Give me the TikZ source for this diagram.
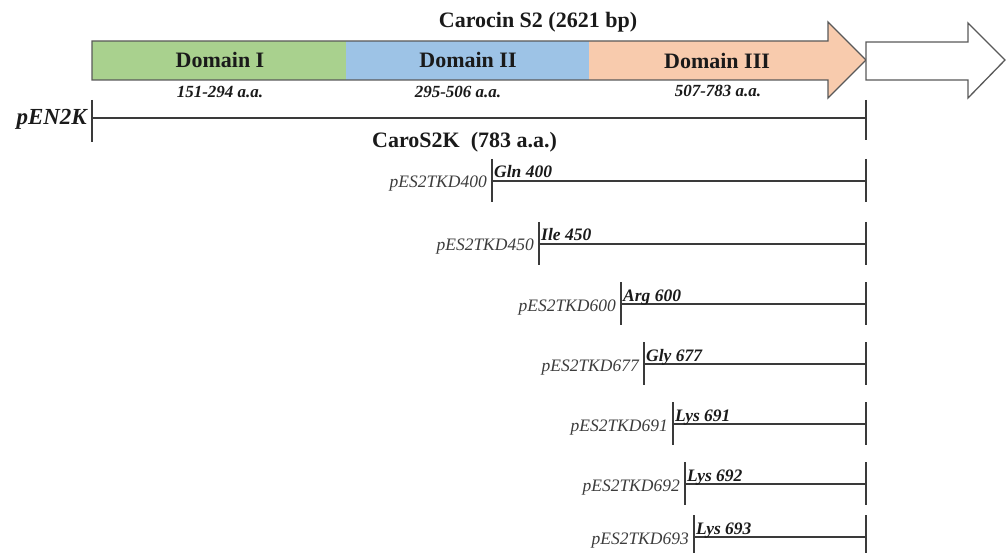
\documentclass[tikz,border=0pt]{standalone}
\usepackage{fontspec}
\setmainfont{Liberation Serif}
\definecolor{dgreen}{HTML}{A9D18E}
\definecolor{dblue}{HTML}{9DC3E6}
\definecolor{dorange}{HTML}{F8CBAD}
\definecolor{edgec}{HTML}{595959}
\definecolor{linec}{HTML}{3A3A3A}
\definecolor{textc}{HTML}{1A1A1A}
\begin{document}
\begin{tikzpicture}[x=1pt,y=-1pt,
  boldlab/.style={font=\fontsize{22}{24}\selectfont\bfseries, text=textc, inner sep=0},
  sublab/.style={font=\fontsize{17}{19}\selectfont\bfseries\itshape, text=textc, inner sep=0, anchor=base},
  rowlab/.style={font=\fontsize{17.5}{19}\selectfont\itshape, text=textc!85, inner sep=0, anchor=base east},
  reslab/.style={font=\fontsize{17.5}{19}\selectfont\bfseries\itshape, text=textc, inner sep=0, anchor=base west},
  conn/.style={draw=linec, line width=1.5pt},
  tickline/.style={draw=linec, line width=1.5pt},
  domainbox/.style={draw=none, minimum height=39pt, inner sep=0, anchor=west}
]
\useasboundingbox (0,0) rectangle (1006,553);
% main arrow (orange body)
\path[fill=dorange] (92,41) -- (828,41) -- (828,22) -- (866,60) -- (828,98) -- (828,80) -- (92,80) -- cycle;
\node[domainbox, fill=dgreen, minimum width=254pt] (d1) at (92,60.5) {};
\node[domainbox, fill=dblue, minimum width=243pt] (d2) at (346,60.5) {};
\draw[edgec, line width=1.3pt, line join=miter] (92,41) -- (828,41) -- (828,22) -- (866,60) -- (828,98) -- (828,80) -- (92,80) -- cycle;
% white arrow
\draw[edgec, fill=white, line width=1.3pt] (866,42) -- (968,42) -- (968,23) -- (1005,60) -- (968,98) -- (968,80) -- (866,80) -- cycle;
% texts in arrow
\node[boldlab, anchor=base] (title) at (538,28) {Carocin S2 (2621 bp)};
\node[boldlab, anchor=base] (l1) at (220,68) {Domain I};
\node[boldlab, anchor=base] (l2) at (468,68) {Domain II};
\node[boldlab, anchor=base] (l3) at (717,69) {Domain III};
\node[sublab] (s1) at (220,98) {151-294 a.a.};
\node[sublab] (s2) at (458,98) {295-506 a.a.};
\node[sublab] (s3) at (718,97) {507-783 a.a.};
% pEN2K
\coordinate (en0) at (92,118);
\coordinate (en1) at (866,118);
\draw[conn] (en0) -- (en1);
\draw[tickline] (92,100) -- (92,142);
\draw[tickline] (866,100) -- (866,140);
\node[font=\fontsize{23}{25}\selectfont\bfseries\itshape, text=textc, inner sep=0, anchor=base east] (pen) at (87,125) {pEN2K};
\node[boldlab, anchor=base west] (caro) at (372,148) {CaroS2K\ \ (783 a.a.)};
% deletion rows
\foreach \n/\x/\y/\r in {400/492/181/Gln 400, 450/539/244/Ile 450, 600/621/304/Arg 600, 677/644/364/Gly 677, 691/673/424/Lys 691, 692/685/484/Lys 692, 693/694/537/Lys 693}{
  \coordinate (s\n) at (\x,\y);
  \coordinate (e\n) at (866,\y);
  \draw[conn] (s\n) -- (e\n);
  \draw[tickline] (\x,\y-22) -- (\x,\y+21);
  \draw[tickline] (866,\y-22) -- (866,\y+21);
  \node[rowlab] (r\n) at (\x-5,\y+7) {pES2TKD\n};
  \node[reslab] (a\n) at (\x+2,\y-3) {\r};
}
\end{tikzpicture}
\end{document}
